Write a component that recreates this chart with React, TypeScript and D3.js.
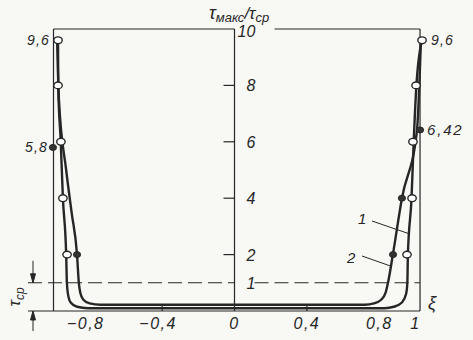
import React from "react";
import * as d3 from "d3";

// curve 1 (outer) and curve 2 (inner): [xi, tau_max / tau_mean]
const curve1: [number, number][] = [
  [-0.975, 9.6], [-0.974, 8], [-0.96, 6], [-0.948, 4], [-0.93, 2], [-0.926, 1],
  [-0.92, 0.6], [-0.905, 0.3], [-0.87, 0.15], [-0.81, 0.1],
  [0.83, 0.1], [0.88, 0.15], [0.925, 0.3], [0.948, 0.6], [0.955, 1], [0.958, 2],
  [0.978, 4], [0.99, 6], [1.005, 8], [1.036, 9.6],
];
const curve2: [number, number][] = [
  [-0.98, 9.6], [-0.97, 7.5], [-0.93, 5], [-0.9, 3.5], [-0.87, 2], [-0.86, 1],
  [-0.852, 0.65], [-0.835, 0.4], [-0.8, 0.27], [-0.74, 0.22],
  [0.72, 0.22], [0.77, 0.27], [0.81, 0.4], [0.835, 0.65], [0.848, 1], [0.875, 2],
  [0.925, 4], [1.008, 6.4], [1.03, 9.6],
];

// measured points
const openPoints: [number, number][] = [
  [-0.975, 9.6], [-0.975, 8], [-0.959, 6], [-0.948, 4], [-0.925, 2],
  [0.953, 2], [0.981, 4], [0.986, 6], [1.003, 8], [1.036, 9.6],
];
const filledPoints: [number, number][] = [
  [-1.003, 5.8], [-0.87, 2], [0.876, 2], [0.925, 4], [1.025, 6.42],
];

const xTicks = [-0.8, -0.4, 0, 0.4, 0.8, 1];
const yTicks = [2, 4, 6, 8];
const meanLevel = 1;

const fmt = (v: number) => String(v).replace(".", ",").replace("-", "\u2212");

const W = 473;
const H = 340;
const ink = "#262626";
const font = "'Liberation Sans', Arial, sans-serif";

export default function App() {
  const x = d3.scaleLinear().domain([-1, 1]).range([53.5, 415.5]);
  const y = d3.scaleLinear().domain([0, 10]).range([311, 29]);

  const line = d3
    .line<[number, number]>()
    .x((d) => x(d[0]))
    .y((d) => y(d[1]))
    .curve(d3.curveMonotoneX);

  const x0 = x(0);
  const left = x(-1);
  const right = x(1.025);
  const top = y(10);
  const bottom = y(0);
  const yMean = y(meanLevel);
  const dimX = 33;

  const txt = {
    fontFamily: font,
    fontStyle: "italic" as const,
    fill: ink,
  };

  return (
    <svg
      width={W}
      height={H}
      style={{ position: "absolute", left: 0, top: 0 }}
    >
      <rect width={W} height={H} fill="#f8f8f5" />

      {/* frame */}
      <g stroke={ink} strokeWidth={1.2} fill="none">
        <line x1={left} y1={top} x2={x0} y2={top} />
        <line x1={x0 + 40} y1={top} x2={right} y2={top} />
        <line x1={left} y1={top} x2={left} y2={bottom} />
        <line x1={right} y1={top} x2={right} y2={bottom} />
        <line x1={28} y1={bottom} x2={right} y2={bottom} />
        <line x1={x0} y1={top} x2={x0} y2={bottom} />
        {yTicks.map((t) => (
          <line key={t} x1={x0 - 11} y1={y(t)} x2={x0} y2={y(t)} />
        ))}
        {[-0.4, 0.4].map((t) => (
          <line key={t} x1={x(t)} y1={bottom} x2={x(t)} y2={bottom - 6} />
        ))}
      </g>

      {/* mean level dashed line */}
      <g stroke={ink} strokeWidth={1.1} strokeDasharray="14 6">
        <line x1={28} y1={yMean} x2={x0} y2={yMean} />
        <line x1={x0 + 20} y1={yMean} x2={right} y2={yMean} />
      </g>

      {/* tau_cp dimension */}
      <g stroke={ink} strokeWidth={1} fill={ink}>
        <line x1={dimX} y1={yMean - 22} x2={dimX} y2={yMean} />
        <path d={`M${dimX - 2.5},${yMean - 9} L${dimX + 2.5},${yMean - 9} L${dimX},${yMean} Z`} />
        <line x1={dimX} y1={bottom} x2={dimX} y2={bottom + 20} />
        <path d={`M${dimX - 2.5},${bottom + 9} L${dimX + 2.5},${bottom + 9} L${dimX},${bottom} Z`} />
      </g>
      <text transform={`translate(20,${(yMean + bottom) / 2}) rotate(-90)`} textAnchor="middle" {...txt} fontSize={17}>
        τ<tspan fontSize={12} dy={4}>ср</tspan>
      </text>

      {/* curves */}
      <g fill="none" stroke={ink} strokeWidth={2.4} strokeLinejoin="round">
        <path d={line(curve1) || ""} />
        <path d={line(curve2) || ""} />
      </g>

      {/* points */}
      {openPoints.map((p, i) => (
        <ellipse key={"o" + i} cx={x(p[0])} cy={y(p[1])} rx={4.2} ry={3.4} fill="#fff" stroke={ink} strokeWidth={1.4} />
      ))}
      {filledPoints.map((p, i) => (
        <ellipse key={"f" + i} cx={x(p[0])} cy={y(p[1])} rx={3.6} ry={3} fill="#333" stroke={ink} strokeWidth={1} />
      ))}

      {/* value labels */}
      <text x={x(-0.975) - 8} y={y(9.6) + 5} textAnchor="end" {...txt} fontSize={14} letterSpacing={1.2}>9,6</text>
      <text x={x(-1.003) - 5} y={y(5.8) + 5} textAnchor="end" {...txt} fontSize={14} letterSpacing={1.2}>5,8</text>
      <text x={x(1.036) + 9} y={y(9.6) + 5} {...txt} fontSize={14} letterSpacing={1.2}>9,6</text>
      <text x={x(1.025) + 7} y={y(6.42) + 5} {...txt} fontSize={15} letterSpacing={1.8}>6,42</text>

      {/* curve labels */}
      <text x={358} y={224} {...txt} fontSize={15}>1</text>
      <line x1={372} y1={221} x2={x(0.96)} y2={y(2.75)} stroke={ink} strokeWidth={1} />
      <text x={347} y={263} {...txt} fontSize={15}>2</text>
      <line x1={362} y1={256} x2={x(0.86)} y2={y(1.6)} stroke={ink} strokeWidth={1} />

      {/* y tick labels */}
      {yTicks.map((t) => (
        <text key={t} x={x0 + 12} y={y(t) + 6} {...txt} fontSize={16}>{fmt(t)}</text>
      ))}
      <text x={x0 + 12} y={yMean + 6} {...txt} fontSize={16}>{fmt(meanLevel)}</text>
      <text x={x0 + 3} y={top + 8} {...txt} fontSize={16}>10</text>

      {/* x tick labels */}
      {xTicks.map((t) => (
        <text key={t} x={x(t) - (t < 0 ? 4 : 0)} y={bottom + 18} textAnchor="middle" {...txt} fontSize={16} letterSpacing={1.5}>
          {fmt(t)}
        </text>
      ))}
      <text x={428} y={bottom - 2} {...txt} fontSize={18}>ξ</text>

      {/* title */}
      <text x={209} y={19} {...txt} fontSize={18}>
        τ<tspan fontSize={13} dy={3}>макс</tspan>
        <tspan fontSize={17} dy={-3}>/τ</tspan>
        <tspan fontSize={13} dy={3}>ср</tspan>
      </text>
    </svg>
  );
}
